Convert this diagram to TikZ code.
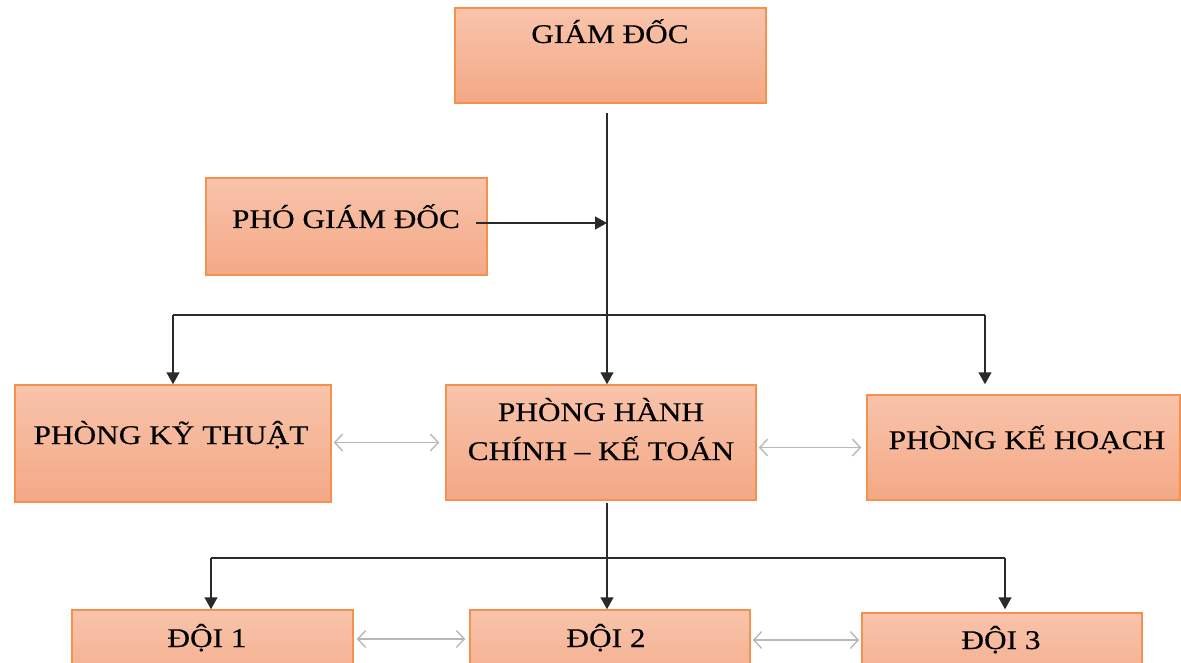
\documentclass[tikz,border=0pt]{standalone}
\usepackage{fontspec}
\setmainfont{Liberation Serif}[FakeStretch=1.16,FakeBold=0.3]
\usetikzlibrary{arrows.meta,calc}
\definecolor{boxtop}{HTML}{F8C4AB}
\definecolor{boxbot}{HTML}{F4A886}
\definecolor{boxline}{HTML}{F4914F}
\definecolor{dblgray}{HTML}{B8B8B8}
\definecolor{linegray}{HTML}{2A2A2A}
\begin{document}
\begin{tikzpicture}[x=1pt,y=-1pt,
  font=\fontsize{27}{31}\selectfont,
  box/.style={draw=boxline, line width=1.5pt, top color=boxtop, bottom color=boxbot, inner sep=0pt},
  lbl/.style={anchor=base, inner sep=0pt},
  blk/.style={draw=linegray, line width=1.5pt},
  blkarr/.style={blk, -{Triangle[length=12pt,width=13pt]}},
  dbl/.style={draw=dblgray, line width=1.4pt, {Straight Barb[length=8pt,width=17pt]}-{Straight Barb[length=8pt,width=17pt]}}]
\useasboundingbox (0,0) rectangle (1181,663);
% boxes
\node[box, minimum width=311pt, minimum height=95pt] (gd) at (610.5,55.5) {};
\node[box, minimum width=281pt, minimum height=97pt] (pgd) at (346.5,226.5) {};
\node[box, minimum width=316pt, minimum height=117pt] (kt) at (173,443.5) {};
\node[box, minimum width=310pt, minimum height=115pt] (hc) at (601,442.5) {};
\node[box, minimum width=313pt, minimum height=105pt] (kh) at (1023.5,447.5) {};
\node[box, minimum width=281pt, minimum height=90pt] (d1) at (212.5,655) {};
\node[box, minimum width=280pt, minimum height=90pt] (d2) at (610,655) {};
\node[box, minimum width=280pt, minimum height=87pt] (d3) at (1002,656.5) {};
% texts
\node[lbl] (gdt) at (610,43) {GIÁM ĐỐC};
\node[lbl] (pgdt) at (346,228) {PHÓ GIÁM ĐỐC};
\node[lbl] (ktt) at (171,444) {PHÒNG KỸ THUẬT};
\node[lbl] (hct1) at (601,421) {PHÒNG HÀNH};
\node[lbl] (hct2) at (601,460) {CHÍNH – KẾ TOÁN};
\node[lbl] (kht) at (1027,449) {PHÒNG KẾ HOẠCH};
\node[lbl] (d1t) at (207,647) {ĐỘI 1};
\node[lbl] (d2t) at (606,647) {ĐỘI 2};
\node[lbl] (d3t) at (1001,649) {ĐỘI 3};
% connectors
\coordinate (top) at (607,113);
\draw[blkarr] (top) -- (top |- hc.north);
\coordinate (pgdend) at (476,223);
\draw[blkarr] (pgdend) -- (pgdend -| top);
\coordinate (h1) at (173,315);
\coordinate (h2) at (985,315);
\draw[blk] (h1) -- (h2);
\draw[blkarr] (h1) -- (h1 |- kt.north);
\draw[blkarr] (h2) -- (h2 |- hc.north);
\coordinate (b0) at (607,503);
\draw[blkarr] (b0) -- (b0 |- d2.north);
\coordinate (g1) at (211,558);
\coordinate (g2) at (1005,558);
\draw[blk] (g1) -- (g2);
\draw[blkarr] (g1) -- (g1 |- d1.north);
\draw[blkarr] (g2) -- (g2 |- d2.north);
% gray double arrows
\draw[dbl] ($(kt.east |- hc.west)+(2,0)$) -- ($(hc.west)+(-6,0)$);
\draw[dbl] ($(hc.east |- kh.west)+(2,0)$) -- ($(kh.west)+(-5,0)$);
\coordinate (yb) at (0,639);
\draw[dbl] ($(d1.east |- yb)+(3,0)$) -- ($(d2.west |- yb)+(-4,0)$);
\draw[dbl] ($(d2.east |- yb)+(2,1)$) -- ($(d3.west |- yb)+(-2,1)$);
\end{tikzpicture}
\end{document}
